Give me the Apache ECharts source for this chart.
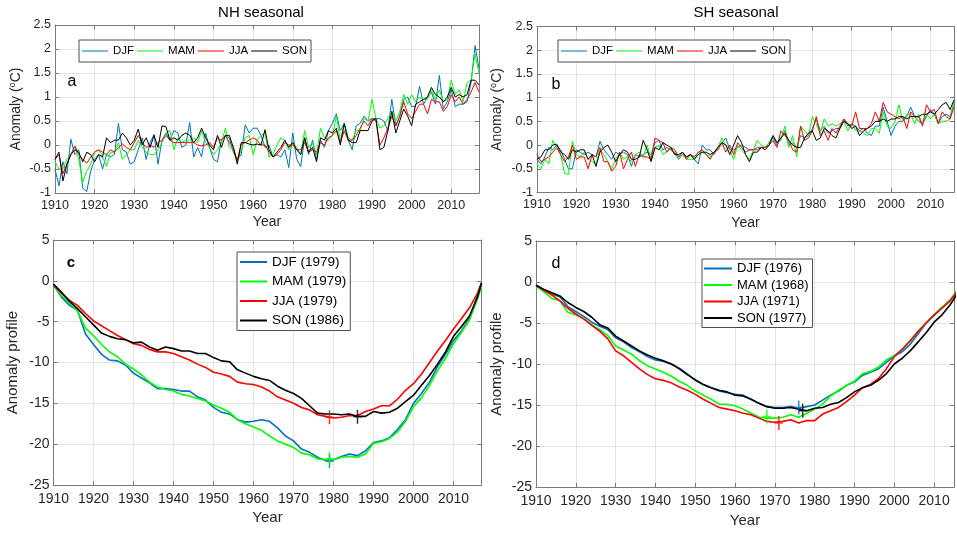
<!DOCTYPE html>
<html>
<head>
<meta charset="utf-8">
<title>Seasonal anomalies</title>
<script src="https://cdn.jsdelivr.net/npm/echarts@6/dist/echarts.min.js"></script>
<style>
  html, body { margin: 0; padding: 0; background: #ffffff; }
  #chart { width: 957px; height: 534px; }
</style>
</head>
<body>
<div id="chart"></div>
<script>
// ---- data ----
const seasons = ['DJF', 'MAM', 'JJA', 'SON']
const seasonColors = ['#0072bd', '#00ff00', '#ff0000', '#000000']

const nhStartYear = 1910
const shStartYear = 1910

// panel a: NH seasonal anomalies, 1910-2017
const nhDJF = [
  -0.5, -0.85, -0.35, -0.6, 0.12, -0.2, -0.1, -0.9, -0.97, -0.55,
  -0.3, -0.2, -0.5, -0.2, -0.25, -0.2, 0.45, -0.1, -0.15, -0.4,
  -0.35, -0.1, 0.15, -0.3, 0.05, 0.22, -0.4, 0.1, 0.25, 0.1,
  0.3, 0.25, -0.05, 0.0, 0.47, -0.25, -0.05, -0.25, 0.25, -0.05,
  -0.3, -0.35, 0.1, 0.2, 0.15, -0.15, -0.3, -0.2, 0.42, 0.25,
  0.35, 0.35, 0.2, -0.05, 0.0, -0.25, -0.2, -0.25, -0.1, -0.47,
  0.25, -0.3, -0.45, 0.15, -0.2, 0.1, -0.3, 0.1, -0.05, 0.3,
  0.45, 0.65, 0.3, 0.45, 0.1, -0.1, 0.4, 0.45, 0.6, 0.5,
  0.55, 0.55, 0.55, 0.5, 0.3, 0.95, 0.4, 0.6, 0.95, 1.0,
  0.8, 0.8, 1.22, 0.85, 1.0, 1.1, 0.85, 1.45, 0.75, 0.9,
  1.15, 0.8, 0.85, 0.85, 0.9, 1.3, 2.07, 1.6
]
const nhMAM = [
  -0.35, -0.5, -0.5, -0.3, -0.2, -0.05, -0.3, -0.78, -0.55, -0.4,
  -0.15, -0.1, -0.25, -0.45, -0.15, -0.15, 0.05, -0.3, -0.2, -0.1,
  -0.1, 0.1, -0.05, -0.15, -0.2, -0.2, -0.1, 0.05, 0.25, 0.3,
  -0.1, 0.15, 0.05, 0.1, 0.1, 0.15, 0.05, 0.3, 0.05, -0.05,
  -0.2, -0.1, 0.05, 0.35, -0.05, -0.1, -0.35, -0.1, 0.15, 0.2,
  -0.2, 0.1, 0.2, 0.25, -0.25, -0.2, 0.0, 0.15, 0.1, -0.1,
  0.05, -0.05, -0.2, 0.3, -0.05, 0.05, -0.2, 0.35, 0.15, 0.1,
  0.2, 0.6, 0.1, 0.45, 0.15, 0.1, 0.3, 0.3, 0.55, 0.5,
  0.95, 0.55, 0.35, 0.4, 0.55, 0.7, 0.5, 0.7, 1.05, 0.85,
  1.05, 0.9, 1.0, 0.95, 0.95, 1.15, 0.95, 1.15, 0.9, 0.95,
  1.35, 1.05, 1.15, 0.9, 1.3, 1.35, 1.9, 1.5
]
const nhJJA = [
  -0.3, -0.2, -0.6, -0.4, -0.2, -0.02, -0.2, -0.3, -0.38, -0.25,
  -0.15, -0.1, -0.15, -0.2, -0.1, -0.15, -0.05, 0.02, -0.05, -0.1,
  0.05, 0.2, 0.05, -0.05, 0.0, -0.05, 0.05, 0.1, 0.2, 0.1,
  0.05, 0.05, 0.05, 0.05, 0.05, 0.05, 0.0, -0.02, 0.0, 0.05,
  -0.05, 0.15, 0.1, 0.2, 0.05, -0.05, -0.32, 0.02, 0.05, 0.1,
  0.15, 0.1, 0.0, 0.0, -0.15, -0.25, -0.2, -0.1, 0.05, 0.0,
  0.0, -0.1, -0.1, 0.05, -0.15, -0.1, -0.15, 0.05, 0.0, 0.15,
  0.2, 0.3, 0.05, 0.3, 0.1, 0.1, 0.2, 0.35, 0.5, 0.4,
  0.55, 0.5, 0.0, 0.15, 0.35, 0.6, 0.4, 0.6, 0.9, 0.65,
  0.55, 0.7, 0.85, 0.85, 0.65, 0.95, 0.9, 0.9, 0.7, 0.8,
  1.05, 0.9, 1.0, 0.85, 0.95, 1.1, 1.3, 1.1
]
const nhSON = [
  -0.3, -0.15, -0.75, -0.4, -0.2, -0.1, -0.15, -0.35, -0.15, -0.2,
  -0.35, -0.2, -0.25, 0.15, 0.05, 0.1, 0.1, 0.25, 0.15, 0.0,
  0.1, 0.33, 0.0, 0.15, -0.05, 0.2, -0.05, 0.4, 0.38, 0.1,
  0.15, 0.1, 0.2, 0.25, 0.2, 0.05, 0.15, 0.35, 0.15, 0.0,
  -0.1, 0.2, -0.05, 0.2, 0.2, -0.05, -0.4, 0.05, 0.05, 0.02,
  0.0, 0.02, 0.0, 0.32, -0.1, -0.25, -0.15, -0.05, 0.1, -0.05,
  0.05, -0.1, -0.2, 0.15, -0.15, -0.05, -0.35, 0.15, 0.1, 0.3,
  0.25, 0.35, 0.0, 0.45, 0.1, 0.05, 0.05, 0.3, 0.3, 0.3,
  0.5, 0.55, -0.1, -0.05, 0.3, 0.7, 0.25, 0.5, 0.75, 0.6,
  0.4, 0.85, 0.9, 0.95, 1.0, 1.2, 1.05, 1.0, 0.9, 1.0,
  1.2, 1.0, 1.05, 1.0, 1.05, 1.35, 1.35, 1.25
]

// panel b: SH seasonal anomalies, 1910-2016
const shDJF = [
  -0.3, -0.4, -0.25, -0.05, -0.1, 0.0, -0.1, -0.3, -0.5, -0.5,
  -0.1, -0.15, -0.2, -0.15, -0.2, -0.25, 0.08, -0.1, -0.2, -0.3,
  -0.15, -0.2, -0.15, -0.2, -0.45, -0.2, -0.25, -0.2, -0.15, -0.2,
  0.05, 0.1, -0.1, -0.05, -0.1, -0.15, -0.3, -0.2, -0.25, -0.2,
  -0.3, -0.4, 0.0, -0.1, -0.1, -0.2, -0.05, 0.05, 0.15, -0.1,
  -0.1, -0.05, 0.0, -0.05, -0.1, -0.1, -0.05, -0.05, -0.05, 0.05,
  0.15, 0.0, 0.15, 0.3, 0.0, 0.05, -0.05, 0.2, 0.15, 0.2,
  0.35, 0.55, 0.3, 0.4, 0.25, 0.3, 0.35, 0.35, 0.55, 0.4,
  0.45, 0.4, 0.3, 0.35, 0.25, 0.2, 0.4, 0.4, 0.8, 0.5,
  0.2, 0.4, 0.5, 0.5, 0.6, 0.8, 0.6, 0.5, 0.45, 0.6,
  0.75, 0.65, 0.45, 0.6, 0.65, 0.6, 0.9
]
const shMAM = [
  -0.4, -0.5, -0.3, -0.4, 0.1, -0.05, -0.2, -0.6, -0.62, 0.08,
  -0.2, -0.25, -0.15, -0.3, -0.35, -0.4, -0.1, -0.2, -0.35, -0.5,
  -0.3, -0.15, -0.3, -0.25, -0.35, -0.2, -0.15, -0.25, 0.0, -0.3,
  -0.05, 0.0, -0.2, -0.15, -0.05, -0.2, -0.25, -0.2, -0.3, -0.3,
  -0.3, -0.15, -0.15, -0.2, -0.25, -0.15, -0.05, 0.15, 0.0, -0.1,
  -0.3, 0.0, -0.1, -0.2, -0.3, -0.1, 0.1, 0.0, -0.05, 0.05,
  0.2, 0.05, 0.1, 0.4, -0.05, 0.2, -0.25, 0.4, 0.3, 0.2,
  0.6, 0.45, 0.25, 0.55, 0.4, 0.45, 0.4, 0.45, 0.5, 0.3,
  0.45, 0.3, 0.3, 0.25, 0.2, 0.35, 0.35, 0.25, 0.7, 0.4,
  0.35, 0.5, 0.85, 0.5, 0.65, 0.65, 0.45, 0.65, 0.45, 0.65,
  0.55, 0.65, 0.45, 0.5, 0.5, 0.55, 0.9
]
const shJJA = [
  -0.2, -0.35, -0.3, -0.25, -0.15, -0.05, -0.2, -0.35, -0.25, 0.0,
  -0.3, -0.25, -0.25, -0.5, -0.2, -0.25, -0.05, -0.35, -0.35, -0.55,
  -0.45, -0.15, -0.5, -0.3, -0.15, -0.45, -0.2, -0.25, -0.25, -0.3,
  0.15, 0.1, 0.05, -0.15, -0.05, -0.1, -0.25, -0.15, -0.3, -0.2,
  -0.25, -0.15, -0.1, -0.2, -0.3, -0.15, -0.1, 0.05, -0.15, 0.0,
  -0.2, 0.05, -0.05, -0.15, -0.1, -0.1, -0.1, -0.05, -0.05, 0.0,
  0.1, -0.05, 0.3, 0.2, 0.1, -0.1, -0.15, 0.4, 0.1, 0.15,
  0.3, 0.6, 0.2, 0.3, 0.1, 0.35, 0.25, 0.4, 0.55, 0.45,
  0.4, 0.7, 0.35, 0.35, 0.35, 0.45, 0.7, 0.5, 0.9, 0.7,
  0.65, 0.6, 0.55, 0.6, 0.35, 0.7, 0.6, 0.6, 0.4, 0.85,
  0.7, 0.75, 0.45, 0.7, 0.6, 0.55, 0.8
]
const shSON = [
  -0.3, -0.25, -0.1, -0.1, 0.0, 0.02, -0.15, -0.2, -0.3, -0.1,
  -0.15, -0.1, -0.1, -0.3, -0.2, -0.45, -0.15, -0.05, 0.0, -0.15,
  -0.35, -0.2, -0.1, -0.15, -0.3, -0.3, -0.25, 0.1, -0.1, -0.35,
  -0.05, -0.1, 0.05, 0.0, -0.05, -0.2, -0.2, -0.15, -0.25, -0.2,
  -0.3, -0.2, -0.15, -0.15, -0.2, -0.15, -0.05, 0.05, 0.0, -0.2,
  0.0, 0.2, 0.05, -0.2, -0.35, -0.15, -0.15, -0.05, -0.1, 0.0,
  0.2, 0.05, 0.15, 0.25, 0.1, 0.0, -0.05, -0.05, 0.15, 0.25,
  0.3, 0.1, 0.15, 0.35, 0.3, 0.2, 0.15, 0.35, 0.5, 0.45,
  0.35, 0.4, 0.2, 0.3, 0.35, 0.4, 0.5, 0.5, 0.55, 0.5,
  0.55, 0.55, 0.6, 0.6, 0.55, 0.6, 0.6, 0.6, 0.65, 0.65,
  0.7, 0.65, 0.75, 0.85, 0.9, 0.75, 0.95
]

// panels c and d: anomaly profiles, read every second year
const profileYears = [
  1910, 1912, 1914, 1916, 1918, 1920, 1922, 1924, 1926, 1928,
  1930, 1932, 1934, 1936, 1938, 1940, 1942, 1944, 1946, 1948,
  1950, 1952, 1954, 1956, 1958, 1960, 1962, 1964, 1966, 1968,
  1970, 1972, 1974, 1976, 1978, 1980, 1982, 1984, 1986, 1988,
  1990, 1992, 1994, 1996, 1998, 2000, 2002, 2004, 2006, 2008,
  2010, 2012, 2014, 2016
]
const nhProfileYears = profileYears.concat([2017])

const nhProfDJF = [
  -0.5, -2.0, -3.0, -3.6, -6.5, -7.8, -9.0, -9.7, -9.8, -10.3,
  -11.3, -11.9, -12.5, -13.2, -13.2, -13.3, -13.5, -13.5, -14.2, -14.6,
  -15.5, -16.1, -16.3, -17.0, -17.3, -17.2, -17.0, -17.2, -18.0, -19.0,
  -19.6, -20.6, -21.0, -21.6, -22.0, -21.9, -21.5, -21.2, -21.4, -20.8,
  -19.8, -19.6, -19.2, -18.2, -17.0, -15.0, -13.8, -12.4, -10.5, -9.0,
  -7.3, -6.1, -4.6, -1.8, -0.3
]
const nhProfMAM = [
  -0.5, -1.8, -2.7, -3.7, -5.8, -6.7, -7.8, -8.7, -9.3, -10.2,
  -10.8, -11.5, -12.4, -13.0, -13.3, -13.5, -13.9, -14.1, -14.4, -14.7,
  -15.2, -15.6, -16.1, -17.0, -17.5, -17.9, -18.3, -19.0, -19.6, -20.0,
  -20.4, -21.1, -21.3, -21.8, -21.9, -21.9, -21.6, -21.5, -21.6, -21.2,
  -19.9, -19.7, -19.3, -18.5, -17.2, -15.4, -14.3, -12.8, -11.0, -9.5,
  -7.7, -6.3, -4.8, -2.2, -0.7
]
const nhProfJJA = [
  -0.5, -1.5, -2.4, -3.0, -4.0, -4.9, -5.5, -6.1, -6.7, -7.2,
  -7.7, -7.9, -8.4, -8.7, -8.7, -8.9, -9.3, -9.7, -10.2, -10.6,
  -11.2, -11.4, -11.7, -12.4, -12.6, -12.7, -13.0, -13.5, -14.2, -14.6,
  -15.0, -15.5, -15.8, -16.4, -16.6, -16.8, -16.7, -16.5, -16.5, -16.0,
  -15.7, -15.3, -15.3, -14.5, -13.4, -12.6, -11.4, -10.0, -8.6, -7.3,
  -5.9, -4.6, -3.3, -1.5, -0.2
]
const nhProfSON = [
  -0.4, -1.4, -2.5, -3.4, -4.4, -5.4, -6.4, -6.8, -7.1, -7.2,
  -7.6, -7.5, -8.1, -8.5, -8.1, -8.3, -8.6, -8.6, -8.9, -8.9,
  -9.4, -9.8, -9.9, -10.9, -11.3, -11.7, -12.0, -12.2, -12.9, -13.4,
  -13.8, -14.4, -15.3, -16.2, -16.3, -16.3, -16.4, -16.3, -16.6, -16.6,
  -16.0, -16.2, -16.1, -15.6, -14.8, -14.0, -12.8, -11.6, -10.2, -8.7,
  -6.8, -5.6, -4.3, -2.0, -0.3
]

const shProfDJF = [
  -0.4, -1.0, -1.5, -1.8, -3.0, -3.6, -4.2, -4.9, -5.4, -5.8,
  -6.8, -7.3, -8.0, -8.5, -9.1, -9.5, -9.7, -10.0, -10.5, -11.2,
  -12.0, -12.5, -12.9, -13.3, -13.5, -13.7, -13.8, -14.3, -14.8, -15.2,
  -15.3, -15.3, -15.2, -15.4, -15.2, -15.0, -14.4, -13.8, -13.3, -12.6,
  -12.2, -11.4, -11.0, -10.6, -9.8, -9.0, -8.5, -7.6, -6.3, -5.0,
  -4.1, -3.1, -2.3, -1.1
]
const shProfMAM = [
  -0.5, -1.2, -2.0, -2.3, -3.7, -4.0, -4.5, -5.2, -5.8, -6.5,
  -7.8, -8.3, -8.8, -9.6, -10.2, -10.6, -11.0, -11.5, -12.1, -12.6,
  -13.3, -13.8, -14.3, -14.9, -14.9, -15.1, -15.5, -16.0, -16.5, -16.6,
  -16.6, -16.5, -16.2, -16.5, -16.0, -15.5, -14.9, -13.9, -13.2, -12.6,
  -12.1, -11.2, -10.9, -10.4, -9.5, -9.0, -8.2, -7.1, -6.0, -5.0,
  -4.0, -3.1, -2.2, -0.9
]
const shProfJJA = [
  -0.4, -1.0, -1.6, -2.3, -3.2, -3.9, -4.5, -5.3, -6.0, -6.9,
  -8.4, -9.0, -9.8, -10.6, -11.3, -11.8, -12.0, -12.3, -12.8, -13.2,
  -13.7, -14.3, -14.8, -15.3, -15.5, -15.7, -16.0, -16.2, -16.6, -17.0,
  -17.1, -17.0, -16.8, -17.2, -16.9, -16.9, -16.1, -15.7, -15.3, -14.6,
  -13.8, -12.9, -12.5, -11.8, -10.6, -9.1, -8.2, -7.2, -6.0, -5.0,
  -4.0, -3.2, -2.3, -1.0
]
const shProfSON = [
  -0.4, -0.9, -1.3, -1.7, -2.5, -3.1, -3.6, -4.3, -5.2, -5.6,
  -6.6, -7.2, -7.8, -8.4, -8.9, -9.3, -9.6, -10.0, -10.6, -11.3,
  -11.9, -12.5, -12.9, -13.2, -13.4, -13.8, -13.9, -14.3, -14.8, -15.2,
  -15.4, -15.4, -15.3, -15.5, -15.7, -15.4, -15.3, -14.9, -14.7, -14.1,
  -13.4, -12.9, -12.6, -12.0, -11.2, -10.0, -9.3, -8.4, -7.3, -6.2,
  -4.9, -4.0, -2.8, -1.3
]

// year of the profile minimum and its value, per season
const nhMinYears = [1979, 1979, 1979, 1986]
const nhMinValues = [-22.1, -21.8, -16.7, -16.65]
const shMinYears = [1976, 1968, 1971, 1977]
const shMinValues = [-15.3, -16.4, -17.2, -15.7]

// ---- styling ----
const fontFamily = '"Liberation Sans", Arial, Helvetica, sans-serif'
const boxColor = '#7a7a7a'
const labelColor = '#262626'
const gridColor = '#e4e4e4'
const crossSymbol = 'path://M3.25,0H4.75V14H3.25ZM0,6.25H8V7.75H0Z'

// legend icon: a thin bar centred in a w x h box (tiny corner specks keep the box size)
function lineIcon(w, h, thick) {
  const y0 = (h - thick) / 2
  return 'path://M0,0L0.01,0L0,0.01Z' +
    'M0,' + y0 + 'H' + w + 'V' + (y0 + thick) + 'H0Z' +
    'M' + w + ',' + h + 'L' + (w - 0.01) + ',' + h + 'L' + w + ',' + (h - 0.01) + 'Z'
}

const nhYears = nhDJF.map((_, i) => nhStartYear + i)
const shYears = shDJF.map((_, i) => shStartYear + i)

const panels = [
  { grid: { left: 55, top: 25, width: 424, height: 168 }, xMax: 2017,
    yMin: -1, yMax: 2.5, yInterval: 0.5, fontSize: 12.5, nameSize: 14,
    xGap: 22, yGap: 30, xMargin: 6, yName: 'anomaly' },
  { grid: { left: 537, top: 26.5, width: 421, height: 166 }, xMax: 2016,
    yMin: -1, yMax: 2.5, yInterval: 0.5, fontSize: 12.5, nameSize: 14,
    xGap: 24, yGap: 31, xMargin: 6, yName: 'anomaly' },
  { grid: { left: 53.5, top: 240, width: 428, height: 245 }, xMax: 2017,
    yMin: -25, yMax: 5, yInterval: 5, fontSize: 14, nameSize: 15,
    xGap: 25, yGap: 32, xMargin: 7, yName: 'profile' },
  { grid: { left: 536, top: 241, width: 421, height: 246 }, xMax: 2015,
    yMin: -25, yMax: 5, yInterval: 5, fontSize: 14, nameSize: 15,
    xGap: 26, yGap: 31, xMargin: 7, yName: 'profile' },
]

const grids = []
const xAxes = []
const yAxes = []

panels.forEach((p, i) => {
  grids.push(p.grid)
  const rich = {
    t: { fontSize: p.nameSize, color: labelColor, fontFamily, lineHeight: 17 },
    s: { fontSize: 9, color: labelColor, fontFamily, verticalAlign: 'top', lineHeight: 9 },
  }
  xAxes[i] = {
    type: 'value', gridIndex: i, min: 1910, max: p.xMax, interval: 10,
    axisLine: { show: true, onZero: false, lineStyle: { color: boxColor, width: 1 } },
    axisTick: { show: true, inside: true, length: 4, lineStyle: { color: boxColor } },
    axisLabel: {
      color: labelColor, fontSize: p.fontSize, fontFamily, margin: p.xMargin,
      formatter: (v) => (v % 10 === 0 ? String(v) : ''),
    },
    splitLine: { show: true, lineStyle: { color: gridColor, width: 1 } },
    name: 'Year', nameLocation: 'middle', nameGap: p.xGap,
    nameTextStyle: { fontSize: p.nameSize, color: labelColor, fontFamily },
  }
  xAxes[i + 4] = {
    type: 'value', gridIndex: i, position: 'top', min: 1910, max: p.xMax, interval: 10,
    axisLine: { show: true, onZero: false, lineStyle: { color: boxColor, width: 1 } },
    axisTick: { show: true, inside: true, length: 4, lineStyle: { color: boxColor } },
    axisLabel: { show: false },
    splitLine: { show: false },
  }
  yAxes[i] = {
    type: 'value', gridIndex: i, min: p.yMin, max: p.yMax, interval: p.yInterval,
    axisLine: { show: true, onZero: false, lineStyle: { color: boxColor, width: 1 } },
    axisTick: { show: true, inside: true, length: 4, lineStyle: { color: boxColor } },
    axisLabel: { color: labelColor, fontSize: p.fontSize, fontFamily, margin: 4 },
    splitLine: { show: true, lineStyle: { color: gridColor, width: 1 } },
    name: p.yName === 'anomaly' ? '{t|Anomaly (}{s|o}{t|C)}' : '{t|Anomaly profile}',
    nameLocation: 'middle', nameGap: p.yGap, nameRotate: 90,
    nameTextStyle: { rich },
  }
  yAxes[i + 4] = {
    type: 'value', gridIndex: i, position: 'right', min: p.yMin, max: p.yMax, interval: p.yInterval,
    axisLine: { show: true, onZero: false, lineStyle: { color: boxColor, width: 1 } },
    axisTick: { show: true, inside: true, length: 4, lineStyle: { color: boxColor } },
    axisLabel: { show: false },
    splitLine: { show: false },
  }
})

const anomalySets = [
  { years: nhYears, values: [nhDJF, nhMAM, nhJJA, nhSON] },
  { years: shYears, values: [shDJF, shMAM, shJJA, shSON] },
]
const profileSets = [
  { years: nhProfileYears, values: [nhProfDJF, nhProfMAM, nhProfJJA, nhProfSON], minYears: nhMinYears, minValues: nhMinValues },
  { years: profileYears, values: [shProfDJF, shProfMAM, shProfJJA, shProfSON], minYears: shMinYears, minValues: shMinValues },
]

const nhProfileNames = seasons.map((s, k) => s + ' (' + nhMinYears[k] + ')')
const shProfileNames = seasons.map((s, k) => s + ' (' + shMinYears[k] + ')')

const series = []
anomalySets.forEach((set, g) => {
  set.values.forEach((vals, k) => {
    series.push({
      type: 'line', name: seasons[k], xAxisIndex: g, yAxisIndex: g,
      data: set.years.map((y, j) => [y, vals[j]]),
      symbol: 'none', showSymbol: false,
      lineStyle: { color: seasonColors[k], width: 1 },
      itemStyle: { color: seasonColors[k] },
      z: 2 + k,
    })
  })
})
profileSets.forEach((set, h) => {
  const g = h + 2
  const names = h === 0 ? nhProfileNames : shProfileNames
  set.values.forEach((vals, k) => {
    series.push({
      type: 'line', name: names[k], xAxisIndex: g, yAxisIndex: g,
      data: set.years.map((y, j) => [y, vals[j]]),
      symbol: 'none', showSymbol: false,
      lineStyle: { color: seasonColors[k], width: 1.6 },
      itemStyle: { color: seasonColors[k] },
    })
  })
  series.push({
    type: 'scatter', name: 'minimum', xAxisIndex: g, yAxisIndex: g,
    symbol: crossSymbol, symbolSize: [8, 14],
    data: set.minYears.map((y, k) => ({
      value: [y, set.minValues[k]],
      itemStyle: { color: seasonColors[k] },
    })),
    z: 5,
  })
})

const legendBase = {
  backgroundColor: '#ffffff', borderColor: '#4d4d4d', borderWidth: 1,
  selectedMode: false, z: 10,
}

const option = {
  animation: false,
  backgroundColor: '#ffffff',
  grid: grids,
  xAxis: xAxes,
  yAxis: yAxes,
  series,
  legend: [
    Object.assign({}, legendBase, {
      left: 79, top: 40, orient: 'horizontal', itemWidth: 26, itemHeight: 12, itemGap: 3,
      icon: lineIcon(26, 12, 1.2), padding: [5, 4, 5, 3], data: seasons,
      textStyle: { fontSize: 11.5, color: '#000', fontFamily },
    }),
    Object.assign({}, legendBase, {
      left: 558, top: 40, orient: 'horizontal', itemWidth: 26, itemHeight: 12, itemGap: 3,
      icon: lineIcon(26, 12, 1.2), padding: [5, 4, 5, 3], data: seasons,
      textStyle: { fontSize: 11.5, color: '#000', fontFamily },
    }),
    Object.assign({}, legendBase, {
      left: 237, top: 252, orient: 'vertical', itemWidth: 27, itemHeight: 14, itemGap: 5.5,
      icon: lineIcon(27, 14, 1.8), padding: [3, 4, 3, 3], data: nhProfileNames,
      textStyle: { fontSize: 13.5, color: '#000', fontFamily },
    }),
    Object.assign({}, legendBase, {
      left: 702, top: 259, orient: 'vertical', itemWidth: 28, itemHeight: 13, itemGap: 3.5,
      icon: lineIcon(28, 13, 1.8), padding: [3, 4, 3, 2], data: shProfileNames,
      textStyle: { fontSize: 13, color: '#000', fontFamily },
    }),
  ],
  graphic: [
    { type: 'text', x: 261, y: 13, style: { text: 'NH seasonal', font: '15px ' + fontFamily, fill: '#000', align: 'center', verticalAlign: 'middle' } },
    { type: 'text', x: 736, y: 13, style: { text: 'SH seasonal', font: '15px ' + fontFamily, fill: '#000', align: 'center', verticalAlign: 'middle' } },
    { type: 'text', x: 72, y: 82, z: 20, style: { text: 'a', font: '16px ' + fontFamily, fill: '#000', align: 'center', verticalAlign: 'middle' } },
    { type: 'text', x: 556, y: 85, z: 20, style: { text: 'b', font: '16px ' + fontFamily, fill: '#000', align: 'center', verticalAlign: 'middle' } },
    { type: 'text', x: 71, y: 263, z: 20, style: { text: 'c', font: 'bold 15px ' + fontFamily, fill: '#000', align: 'center', verticalAlign: 'middle' } },
    { type: 'text', x: 556, y: 264, z: 20, style: { text: 'd', font: '16px ' + fontFamily, fill: '#000', align: 'center', verticalAlign: 'middle' } },
  ],
}

const chart = echarts.init(document.getElementById('chart'), null, { renderer: 'canvas' })
chart.setOption(option)
window.addEventListener('resize', () => chart.resize())
</script>
</body>
</html>
